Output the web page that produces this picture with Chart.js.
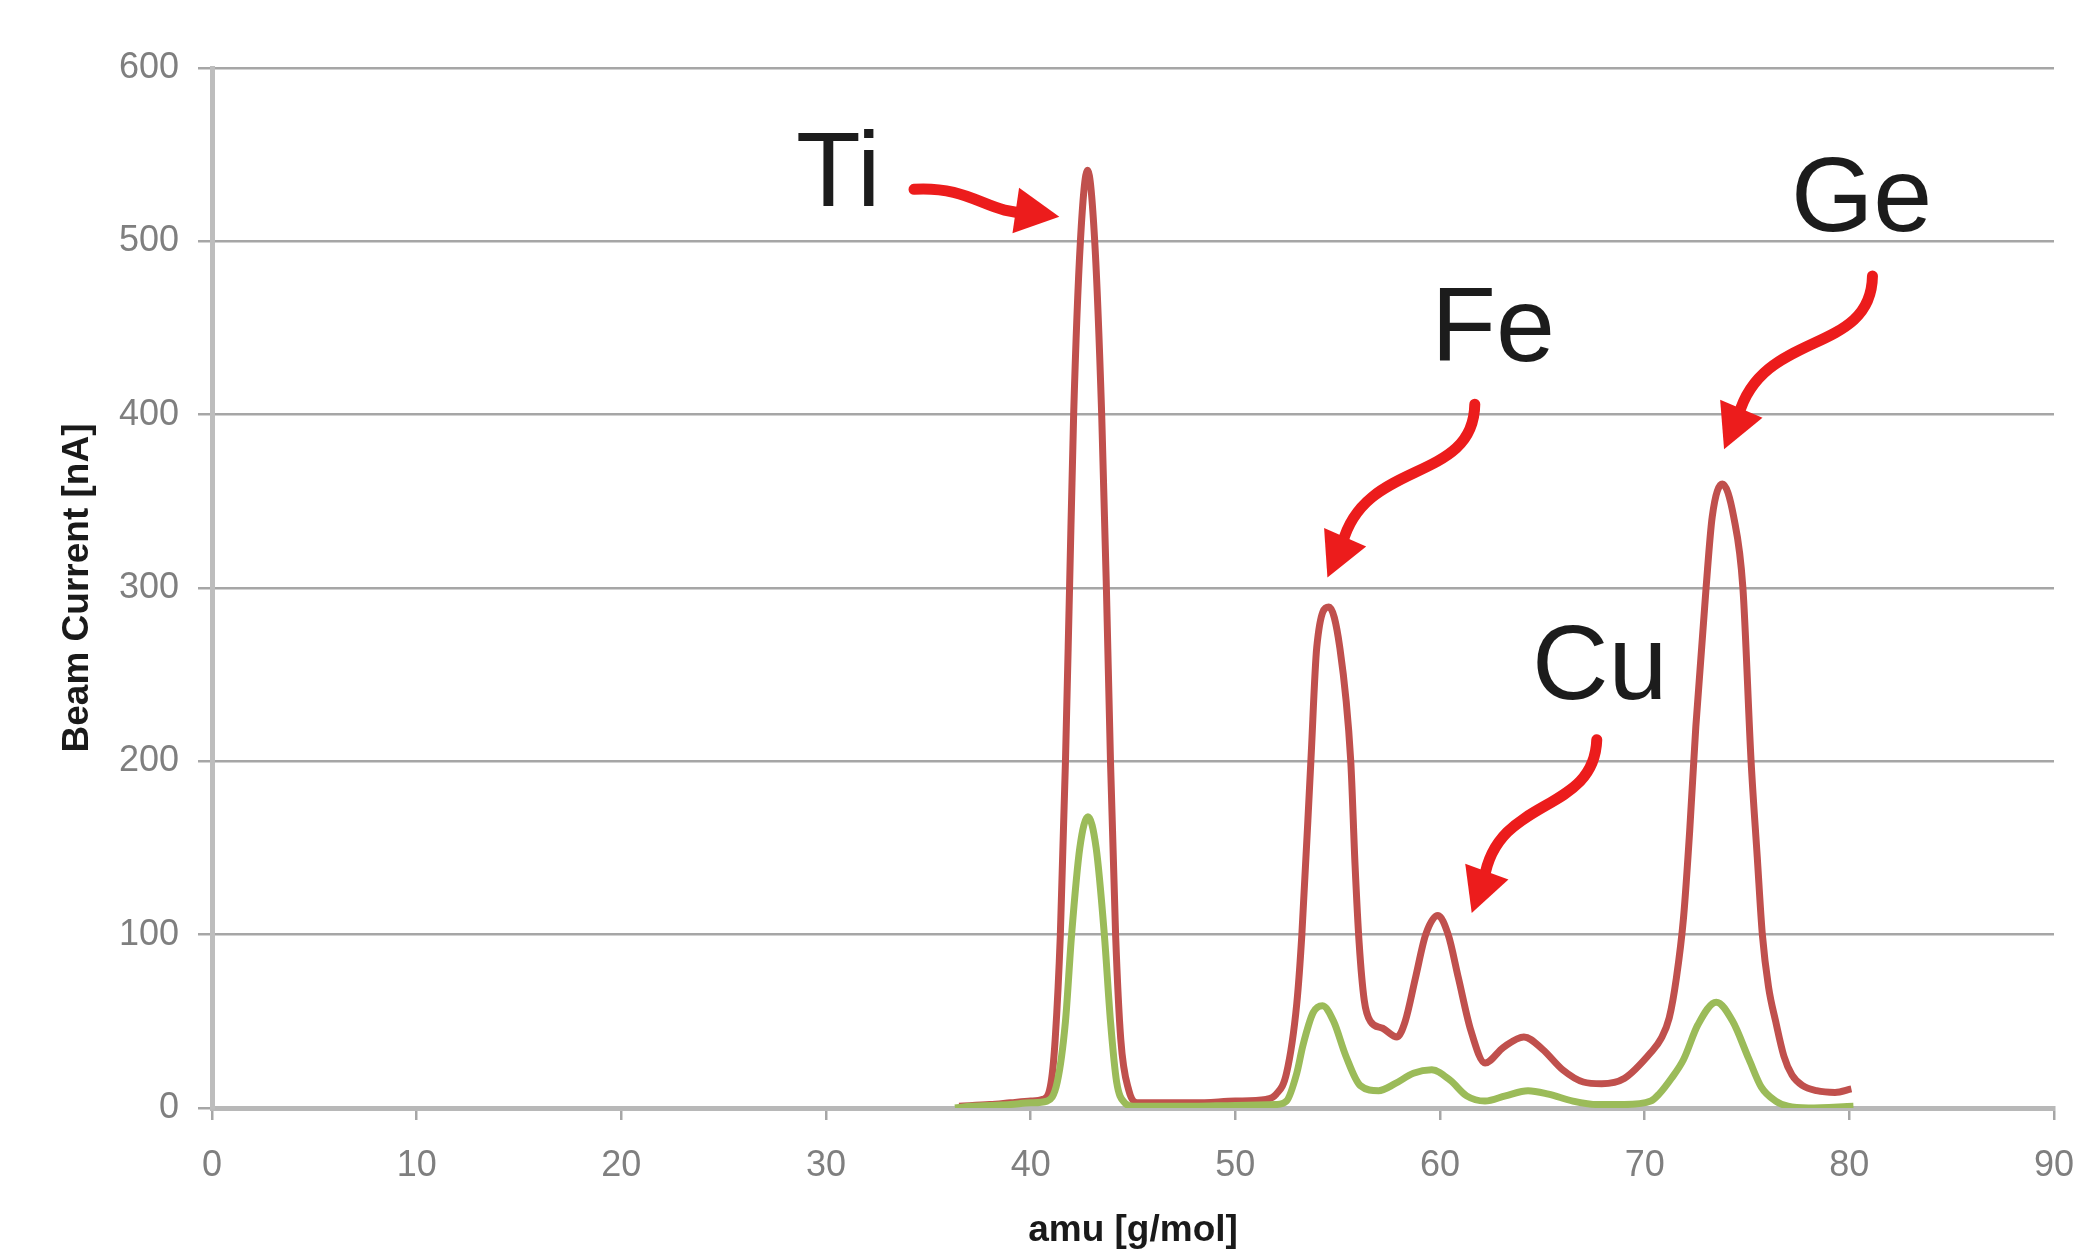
<!DOCTYPE html>
<html>
<head>
<meta charset="utf-8">
<style>
  html, body { margin: 0; padding: 0; background: #fff; }
  canvas { display: block; }
</style>
</head>
<body>
<canvas id="canvas" width="2078" height="1253"></canvas>
<script src="https://cdn.jsdelivr.net/npm/chart.js@4.4.1/dist/chart.umd.min.js"></script>
<script>
// beam current traces
const amuRed = [36.5, 38, 39, 40, 40.6, 41, 41.2, 41.45, 41.7, 41.9, 42.1, 42.43, 42.78, 43.13, 43.47, 43.7, 43.9, 44.15,
  44.4, 44.8, 45.2, 46, 48, 50, 51.5,
  52, 52.5, 53, 53.25, 53.69, 53.98, 54.57, 55.1, 55.64, 55.85, 56.05, 56.3, 56.6, 57.2, 57.9, 58.3, 58.8, 59.3,
  59.9, 60.4, 60.9, 61.5, 62.2, 63.1, 64.1, 65, 66, 67, 67.9, 69, 70.3, 70.8, 71.2, 71.55, 71.9, 72.2, 72.5, 73,
  73.3, 73.8, 74.35, 74.8, 75.2, 75.5, 75.75, 76.05, 76.4, 76.8, 77.2, 77.7, 78.4, 79.3, 80.1];
const currentRed = [1, 2, 3, 4, 5, 15, 40, 100, 200, 300, 400, 500, 541, 500, 400, 300, 200, 100,
  40, 10, 3, 3, 3, 4, 5,
  8, 20, 60, 100, 200, 266, 289, 266, 200, 140, 95, 62, 50, 46, 41, 50, 75, 100,
  111, 100, 75, 45, 26, 35, 41, 34, 22, 15, 14, 17, 32, 40, 52, 75, 110, 160, 220, 300,
  341, 360, 341, 300, 200, 145, 100, 70, 50, 30, 19, 13, 10, 9, 11];

const amuGreen = [36.3, 37, 38, 39, 40, 40.8, 41.3, 41.7, 42, 42.4, 42.8, 43.2, 43.6, 43.9, 44.2, 44.6, 45, 46, 48, 50, 52,
  52.5, 53, 53.3, 53.8, 54.26, 54.8, 55.4, 56.1, 57, 57.8, 58.7, 59.6, 60.5, 61.3, 62.2, 63.2, 64.3, 65.3,
  66.5, 67.7, 69, 70.3, 70.7, 71.3, 71.9, 72.6, 73.5, 74.3, 75.1, 75.7, 76.4, 77, 78, 80.2];
const currentGreen = [0, 1, 1.5, 2, 3, 4, 15, 50, 100, 150, 168, 150, 100, 50, 15, 3, 1, 1, 1, 1.5, 2,
  4, 20, 36, 55, 59, 50, 30, 13, 10, 14, 20, 22, 16, 7, 4, 7, 10, 8,
  4, 2, 2, 4, 8, 17, 28, 48, 61, 50, 28, 12, 4, 1, 0, 1];

const xTicks = [0, 10, 20, 30, 40, 50, 60, 70, 80, 90];
const yTicks = [0, 100, 200, 300, 400, 500, 600];

// element labels with their curly arrows, in axis units
const peakNotes = [
  { text: 'Ti', at: [30.6, 537], arrow: [[34.3, 530], [37.2, 532], [37.9, 515], [40.0, 516.6]], tip: [41.4, 514.2] },
  { text: 'Fe', at: [62.6, 448], arrow: [[61.7, 406], [61.64, 360], [56.33, 375], [55.23, 325.6]], tip: [54.5, 306] },
  { text: 'Cu', at: [67.8, 253], arrow: [[67.66, 212.5], [67.53, 169], [62.81, 180.4], [62.16, 132.2]], tip: [61.55, 112.5] },
  { text: 'Ge', at: [80.6, 523], arrow: [[81.13, 480], [81.07, 434], [75.76, 449.4], [74.59, 399.7]], tip: [73.88, 380] }
];

const toPoints = (xs, ys) => xs.map((v, i) => ({ x: v, y: ys[i] }));

const peakNotesPlugin = {
  id: 'peakNotes',
  afterDatasetsDraw(chart) {
    const { ctx, scales: { x, y } } = chart;
    const px = p => [x.getPixelForValue(p[0]), y.getPixelForValue(p[1])];
    ctx.save();
    peakNotes.forEach(n => {
      const [a, b, c, d] = n.arrow.map(px);
      const t = px(n.tip);
      ctx.strokeStyle = '#ec1c1c';
      ctx.fillStyle = '#ec1c1c';
      ctx.lineWidth = 11;
      ctx.lineCap = 'round';
      ctx.beginPath();
      ctx.moveTo(a[0], a[1]);
      ctx.bezierCurveTo(b[0], b[1], c[0], c[1], d[0], d[1]);
      ctx.stroke();
      // arrow head
      const ang = Math.atan2(t[1] - d[1], t[0] - d[0]);
      const len = 44, half = 23;
      const bx = t[0] - len * Math.cos(ang), by = t[1] - len * Math.sin(ang);
      ctx.beginPath();
      ctx.moveTo(t[0], t[1]);
      ctx.lineTo(bx + half * Math.sin(ang), by - half * Math.cos(ang));
      ctx.lineTo(bx - half * Math.sin(ang), by + half * Math.cos(ang));
      ctx.closePath();
      ctx.fill();
      // label
      const p = px(n.at);
      ctx.fillStyle = '#1c1c1c';
      ctx.font = '106px "Liberation Sans", Arial, sans-serif';
      ctx.textAlign = 'center';
      ctx.textBaseline = 'middle';
      ctx.fillText(n.text, p[0], p[1]);
    });
    ctx.restore();
  }
};

const tickFont = { family: '"Liberation Sans", Arial, sans-serif', size: 36 };
const titleFont = { family: '"Liberation Sans", Arial, sans-serif', size: 37, weight: 'bold' };

new Chart(document.getElementById('canvas'), {
  type: 'line',
  data: {
    datasets: [{
      data: toPoints(amuGreen, currentGreen),
      borderColor: '#9bbb59',
      borderWidth: 7,
      pointRadius: 0,
      cubicInterpolationMode: 'monotone',
      order: 0
    }, {
      data: toPoints(amuRed, currentRed),
      borderColor: '#c0504d',
      borderWidth: 7,
      pointRadius: 0,
      cubicInterpolationMode: 'monotone',
      order: 1
    }]
  },
  options: {
    responsive: false,
    animation: false,
    layout: { padding: { left: 0, top: 68, right: 24, bottom: 0 } },
    plugins: {
      legend: { display: false },
      tooltip: { enabled: false }
    },
    scales: {
      x: {
        type: 'linear',
        min: 0,
        max: 90,
        afterBuildTicks: s => { s.ticks = xTicks.map(v => ({ value: v })); },
        afterFit: s => { s.height = 145; s.paddingLeft = 0; s.paddingRight = 0; },
        grid: { drawOnChartArea: false, drawTicks: true, tickLength: 12, color: '#a6a6a6', lineWidth: 2.5 },
        border: { display: true, color: '#b8b8b8', width: 5 },
        ticks: { color: '#7f7f7f', font: tickFont, padding: 24, maxRotation: 0 },
        title: { display: true, text: 'amu [g/mol]', color: '#1a1a1a', font: titleFont, padding: { top: 1, bottom: 0 } }
      },
      y: {
        min: 0,
        max: 600,
        afterBuildTicks: s => { s.ticks = yTicks.map(v => ({ value: v })); },
        afterFit: s => { s.width = 212; },
        grid: { color: '#a6a6a6', lineWidth: 2.5, tickLength: 14 },
        border: { display: true, color: '#bdbdbd', width: 5 },
        ticks: { color: '#7f7f7f', font: tickFont, padding: 19 },
        title: { display: true, text: 'Beam Current [nA]', color: '#1a1a1a', font: titleFont, padding: { top: 56, bottom: 0 } }
      }
    }
  },
  plugins: [peakNotesPlugin]
});
</script>
</body>
</html>
